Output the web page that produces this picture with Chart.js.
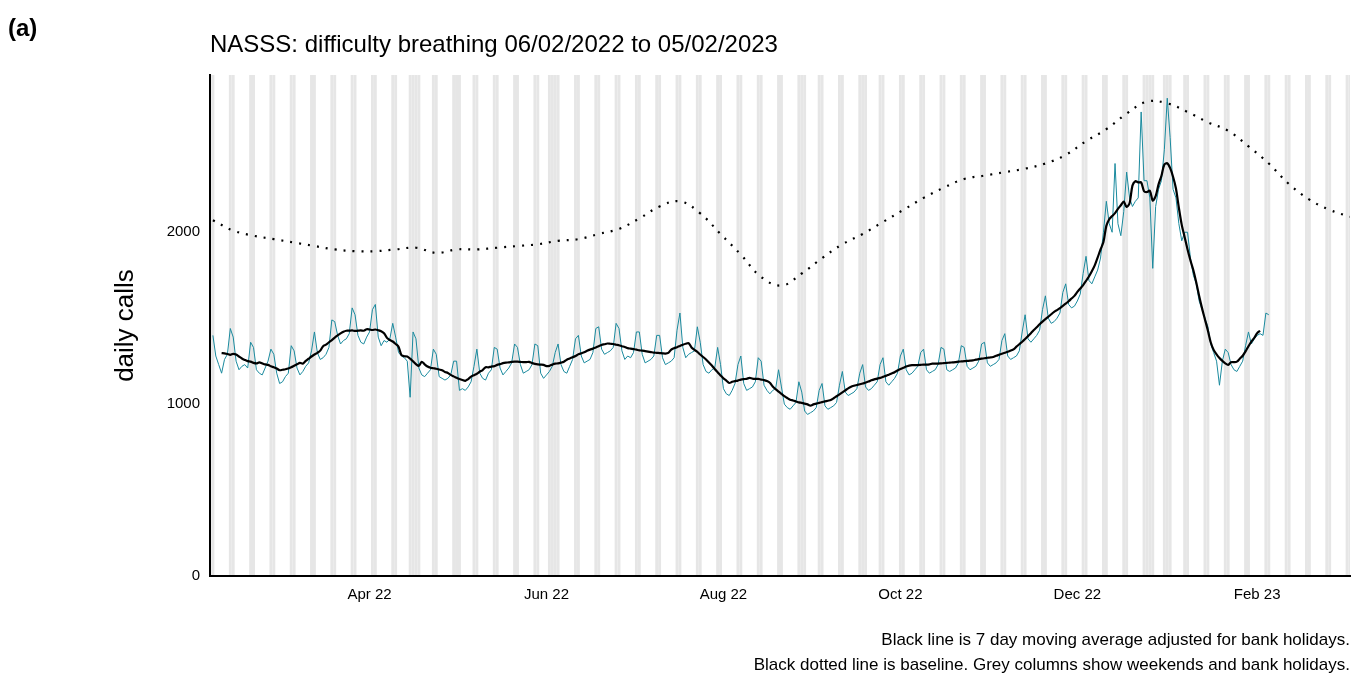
<!DOCTYPE html>
<html lang="en">
<head>
<meta charset="UTF-8">
<title>NASSS difficulty breathing</title>
<script src="https://cdn.jsdelivr.net/npm/chart.js"></script>
<style>
  * { margin: 0; padding: 0; box-sizing: border-box; }
  body { background: #fff; width: 1357px; height: 676px; overflow: hidden; }
  #wrap { position: relative; width: 1357px; height: 676px; }
</style>
</head>
<body>
<div id="wrap"><canvas id="chart"></canvas></div>
<script>
// day 0 = Sun 06/02/2022
const startDate = new Date(2022, 1, 6);

// daily calls, one row per week (Sun..Sat)
const dailyCalls = [
  1400,1280,1230,1180,1260,1290,1440,
  1390,1250,1200,1220,1230,1210,1360,
  1330,1200,1180,1170,1210,1250,1320,
  1290,1180,1120,1130,1160,1180,1340,
  1310,1210,1170,1190,1220,1240,1310,
  1420,1300,1260,1270,1290,1330,1490,
  1480,1400,1350,1370,1380,1410,1560,
  1520,1400,1360,1350,1390,1420,1550,
  1580,1390,1340,1370,1360,1380,1470,
  1390,1300,1280,1270,1250,1040,1420,
  1380,1210,1170,1160,1180,1200,1320,
  1290,1160,1150,1140,1150,1170,1250,
  1250,1080,1090,1080,1100,1130,1220,
  1320,1180,1150,1140,1180,1200,1330,
  1320,1210,1170,1190,1210,1240,1350,
  1330,1230,1180,1190,1200,1230,1350,
  1340,1180,1150,1170,1190,1220,1300,
  1350,1230,1190,1180,1220,1260,1380,
  1400,1280,1240,1250,1260,1300,1440,
  1450,1320,1290,1300,1310,1330,1470,
  1440,1310,1260,1280,1270,1300,1420,
  1420,1290,1240,1250,1260,1280,1400,
  1400,1270,1230,1240,1250,1270,1430,
  1530,1330,1270,1290,1300,1310,1450,
  1360,1230,1190,1180,1200,1210,1330,
  1230,1090,1060,1050,1080,1120,1230,
  1280,1120,1080,1090,1100,1130,1270,
  1250,1110,1080,1060,1080,1090,1200,
  1100,1000,980,970,990,1010,1130,
  1070,960,940,950,960,980,1080,
  1120,990,970,980,990,1010,1110,
  1190,1070,1050,1060,1070,1090,1180,
  1230,1100,1080,1090,1110,1130,1230,
  1270,1130,1110,1130,1150,1180,1280,
  1320,1200,1170,1180,1200,1220,1300,
  1320,1200,1180,1190,1200,1230,1330,
  1320,1200,1190,1200,1210,1240,1340,
  1330,1220,1200,1210,1220,1250,1350,
  1360,1240,1220,1230,1240,1260,1370,
  1410,1280,1260,1270,1280,1310,1420,
  1520,1380,1360,1380,1400,1430,1550,
  1630,1500,1470,1480,1500,1530,1650,
  1700,1580,1560,1570,1600,1640,1760,
  1860,1720,1700,1740,1780,1850,2000,
  2180,2050,2000,2400,2050,1980,2120,
  2350,2200,2150,2180,2200,2700,2300,
  2300,2200,1790,2150,2250,2300,2480,
  2780,2550,2250,2200,2050,1950,2000,
  2000,1850,1750,1700,1600,1550,1500,
  1450,1350,1300,1250,1110,1250,1320,
  1300,1230,1200,1190,1220,1250,1340,
  1420,1350,1380,1400,1410,1400,1530,
  1520
];

// baseline, weekly points (day index, value)
const baselineDays = [0,7,14,21,28,35,42,49,56,63,70,77,84,91,98,105,112,119,126,133,140,147,154,161,168,175,182,189,196,203,210,217,224,231,238,245,252,259,266,273,280,287,294,301,308,315,322,329,336,343,350,357,364,371,378,385,392];
const baselineVals = [2070,2010,1980,1960,1940,1920,1900,1890,1890,1900,1910,1880,1900,1900,1910,1920,1930,1950,1960,1990,2020,2080,2150,2180,2110,1990,1870,1740,1690,1760,1850,1930,1990,2060,2130,2200,2260,2310,2330,2350,2370,2400,2450,2530,2600,2690,2760,2750,2700,2640,2590,2500,2400,2280,2190,2130,2090];

const bankHolidays = ['2022-04-15','2022-04-18','2022-05-02','2022-06-02','2022-06-03','2022-08-29','2022-09-19','2022-12-26','2022-12-27','2023-01-02'];
const monthTicks = [[2022,3,'Apr 22'],[2022,5,'Jun 22'],[2022,7,'Aug 22'],[2022,9,'Oct 22'],[2022,11,'Dec 22'],[2023,1,'Feb 23']];
const yTicks = [0, 1000, 2000];

function dayIndex(d) { return Math.round((d - startDate) / 86400000); }
const tickPos = monthTicks.map(m => dayIndex(new Date(m[0], m[1], 1)));
const tickLabel = {};
monthTicks.forEach((m, i) => tickLabel[tickPos[i]] = m[2]);

// 7 day moving average of the daily calls
const ma = [];
for (let i = 3; i < dailyCalls.length - 3; i++) {
  let s = 0;
  for (let k = -3; k <= 3; k++) s += dailyCalls[i + k];
  ma.push({ x: i, y: s / 7 });
}

const greyDays = [];
const bh = new Set(bankHolidays);
for (let i = -1; i <= 393; i++) {
  const d = new Date(startDate.getTime() + i * 86400000);
  const iso = d.getFullYear() + '-' + String(d.getMonth() + 1).padStart(2, '0') + '-' + String(d.getDate()).padStart(2, '0');
  if (d.getDay() === 0 || d.getDay() === 6 || bh.has(iso)) greyDays.push(i);
}

const greyColumns = {
  id: 'greyColumns',
  beforeDatasetsDraw(chart) {
    const { ctx, chartArea: a, scales: { x } } = chart;
    ctx.save();
    ctx.beginPath();
    ctx.rect(a.left + 1, a.top, a.right - a.left - 1, a.bottom - a.top - 1);
    ctx.clip();
    ctx.fillStyle = '#e6e6e6';
    greyDays.forEach(i => {
      const x0 = x.getPixelForValue(i - 0.5), x1 = x.getPixelForValue(i + 0.5);
      ctx.fillRect(x0, a.top, x1 - x0, a.bottom - a.top);
    });
    ctx.restore();
  }
};

const texts = {
  id: 'texts',
  afterDraw(chart) {
    const { ctx, chartArea: a } = chart;
    ctx.save();
    ctx.fillStyle = '#000';
    ctx.font = 'bold 24px "Liberation Sans", Arial, sans-serif';
    ctx.textBaseline = 'alphabetic';
    ctx.fillText('(a)', 8, 36);
    ctx.font = '24px "Liberation Sans", Arial, sans-serif';
    ctx.fillText('NASSS: difficulty breathing 06/02/2022 to 05/02/2023', 210, 52);
    ctx.font = '17px "Liberation Sans", Arial, sans-serif';
    ctx.textAlign = 'right';
    ctx.fillText('Black line is 7 day moving average adjusted for bank holidays.', 1350, 645);
    ctx.fillText('Black dotted line is baseline. Grey columns show weekends and bank holidays.', 1350, 670);
    ctx.translate(133, (a.top + a.bottom) / 2);
    ctx.rotate(-Math.PI / 2);
    ctx.textAlign = 'center';
    ctx.font = '26px "Liberation Sans", Arial, sans-serif';
    ctx.fillText('daily calls', 0, 0);
    ctx.restore();
  }
};

new Chart(document.getElementById('chart'), {
  type: 'line',
  data: {
    datasets: [
      { data: ma, borderColor: '#000', borderWidth: 2.2, pointRadius: 0, tension: 0.3 },
      { data: dailyCalls.map((v, i) => ({ x: i, y: v })), borderColor: '#1a8a9e', borderWidth: 1, pointRadius: 0 },
      { data: baselineDays.map((d, i) => ({ x: d, y: baselineVals[i] })), borderColor: '#000', borderWidth: 2.2, borderDash: [2, 7], pointRadius: 0, tension: 0.4 }
    ]
  },
  options: {
    responsive: true,
    maintainAspectRatio: false,
    animation: false,
    layout: { padding: { top: 75, right: 7, left: 0, bottom: 0 } },
    plugins: { legend: { display: false }, tooltip: { enabled: false } },
    scales: {
      x: {
        type: 'linear', min: -1, max: 392,
        afterFit(s) { s.height = 100; },
        afterBuildTicks(s) { s.ticks = tickPos.map(v => ({ value: v })); },
        ticks: { callback: v => tickLabel[v] || '', color: '#000', font: { size: 15, family: '"Liberation Sans", Arial' }, maxRotation: 0, autoSkip: false, padding: 4 },
        grid: { display: false, drawTicks: true, tickLength: 6, tickColor: '#333' },
        border: { color: '#000', width: 2 }
      },
      y: {
        min: 0, max: 2915,
        afterFit(s) { s.width = 210; },
        afterBuildTicks(s) { s.ticks = yTicks.map(v => ({ value: v })); },
        ticks: { callback: v => String(v), color: '#000', font: { size: 15, family: '"Liberation Sans", Arial' }, padding: 4 },
        grid: { display: false, drawTicks: true, tickLength: 6, tickColor: '#333' },
        border: { color: '#000', width: 2 }
      }
    }
  },
  plugins: [greyColumns, texts]
});
</script>
</body>
</html>
